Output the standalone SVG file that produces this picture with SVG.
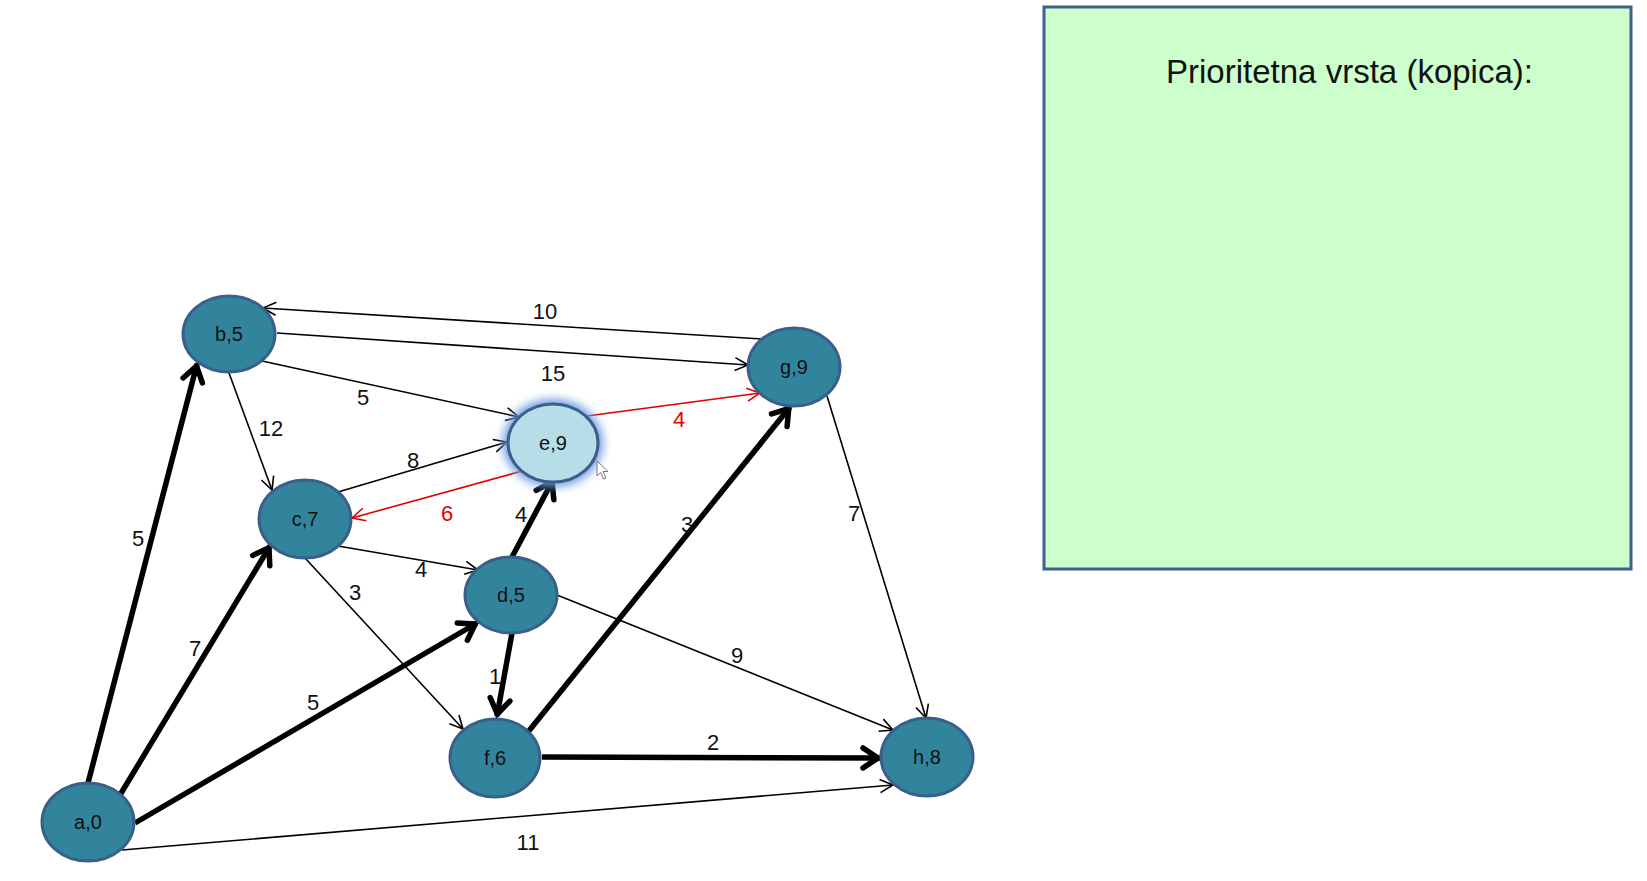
<svg xmlns="http://www.w3.org/2000/svg" width="1647" height="881" viewBox="0 0 1647 881">
<style>
.node{fill:#31849B;stroke:#3A5F8B;stroke-width:3}
.nt{font-family:"Liberation Sans",Arial,sans-serif;font-size:20px;fill:#111;text-anchor:middle}
.el{font-family:"Liberation Sans",Arial,sans-serif;font-size:22px;fill:#111;text-anchor:middle}
.red{fill:#E00000}
.thin{stroke:#000;stroke-width:1.6;fill:none;marker-end:url(#ah)}
.thick{stroke:#000;stroke-width:5.5;fill:none;marker-end:url(#ahk)}
.rl{stroke:#E00000;stroke-width:1.6;fill:none;marker-end:url(#ahr)}
</style>
<defs>
<marker id="ah" markerUnits="userSpaceOnUse" orient="auto" overflow="visible" markerWidth="1" markerHeight="1"><path d="M-13,-6.5 L0,0 L-13,6.5" fill="none" stroke="#000" stroke-width="1.6"/></marker>
<marker id="ahr" markerUnits="userSpaceOnUse" orient="auto" overflow="visible" markerWidth="1" markerHeight="1"><path d="M-13,-6.5 L0,0 L-13,6.5" fill="none" stroke="#E00000" stroke-width="1.6"/></marker>
<marker id="ahk" markerUnits="userSpaceOnUse" orient="auto" overflow="visible" markerWidth="1" markerHeight="1"><path d="M-17,-10 L-2,0 L-17,10" fill="none" stroke="#000" stroke-width="5.5" stroke-linecap="round"/></marker>
<filter id="glow" x="-50%" y="-50%" width="200%" height="200%"><feGaussianBlur stdDeviation="5"/></filter>
</defs>
<rect width="1647" height="881" fill="#fff"/>
<g id="queue-box">
<rect x="1044" y="7" width="587" height="562" fill="#CCFFCC" stroke="#3F5F8F" stroke-width="3"/>
<text x="1166" y="83" font-family="'Liberation Sans',Arial,sans-serif" font-size="34" fill="#111" textLength="367" lengthAdjust="spacingAndGlyphs">Prioritetna vrsta (kopica):</text>
</g>
<g id="connectors">
<line class="thick" x1="88" y1="783" x2="197" y2="364"/>
<line class="thick" x1="120" y1="795" x2="270" y2="546"/>
<line class="thick" x1="135" y1="823" x2="477" y2="623"/>
<line class="thin" x1="122" y1="850" x2="893" y2="785"/>
<line class="thin" x1="277" y1="333" x2="748" y2="365"/>
<line class="thin" x1="762" y1="339" x2="263" y2="308"/>
<line class="thin" x1="262" y1="361" x2="519" y2="417"/>
<line class="thin" x1="229" y1="373" x2="272" y2="490"/>
<line class="thin" x1="338" y1="492" x2="507" y2="442"/>
<line class="rl" x1="522" y1="471" x2="352" y2="518"/>
<line class="rl" x1="587" y1="416" x2="760" y2="393"/>
<line class="thin" x1="338" y1="546" x2="478" y2="570"/>
<line class="thin" x1="305" y1="558" x2="463" y2="729"/>
<line class="thick" x1="512" y1="557" x2="553" y2="480"/>
<line class="thick" x1="512" y1="633" x2="497" y2="716"/>
<line class="thin" x1="557" y1="595" x2="893" y2="730"/>
<line class="thick" x1="528" y1="732" x2="790" y2="407"/>
<line class="thick" x1="542" y1="757" x2="880" y2="758"/>
<line class="thin" x1="827" y1="396" x2="926" y2="718"/>
<text class="el" x="138" y="546">5</text>
<text class="el" x="195" y="656">7</text>
<text class="el" x="313" y="710">5</text>
<text class="el" x="528" y="850">11</text>
<text class="el" x="553" y="381">15</text>
<text class="el" x="545" y="319">10</text>
<text class="el" x="363" y="405">5</text>
<text class="el" x="271" y="436">12</text>
<text class="el" x="413" y="468">8</text>
<text class="el red" x="447" y="521">6</text>
<text class="el red" x="679" y="427">4</text>
<text class="el" x="421" y="577">4</text>
<text class="el" x="355" y="600">3</text>
<text class="el" x="521" y="522">4</text>
<text class="el" x="495" y="684">1</text>
<text class="el" x="737" y="663">9</text>
<text class="el" x="687" y="532">3</text>
<text class="el" x="713" y="750">2</text>
<text class="el" x="854" y="521">7</text>
</g>
<g id="node-a"><ellipse class="node" cx="88" cy="822" rx="46" ry="39"/><text class="nt" x="88" y="829">a,0</text></g>
<g id="node-b"><ellipse class="node" cx="229" cy="334" rx="46" ry="38"/><text class="nt" x="229" y="341">b,5</text></g>
<g id="node-c"><ellipse class="node" cx="305" cy="519" rx="46" ry="39"/><text class="nt" x="305" y="526">c,7</text></g>
<g id="node-d"><ellipse class="node" cx="511" cy="595" rx="46" ry="38"/><text class="nt" x="511" y="602">d,5</text></g>
<g id="node-e"><ellipse cx="553" cy="443" rx="50" ry="44" fill="#6F9BE0" filter="url(#glow)"/><ellipse cx="553" cy="443" rx="45" ry="39" fill="#B7DEE8" stroke="#3A5F8B" stroke-width="3"/><text class="nt" x="553" y="450">e,9</text></g>
<g id="node-f"><ellipse class="node" cx="495" cy="758" rx="45" ry="39"/><text class="nt" x="495" y="765">f,6</text></g>
<g id="node-g"><ellipse class="node" cx="794" cy="367" rx="46" ry="39"/><text class="nt" x="794" y="374">g,9</text></g>
<g id="node-h"><ellipse class="node" cx="927" cy="757" rx="46" ry="39"/><text class="nt" x="927" y="764">h,8</text></g>
<g id="cursor"><path d="M597,461 L597,476 L600.5,472.5 L603.5,479 L606,478 L603,471.5 L608,471.5 Z" fill="#fff" stroke="#777" stroke-width="1"/></g>
</svg>
